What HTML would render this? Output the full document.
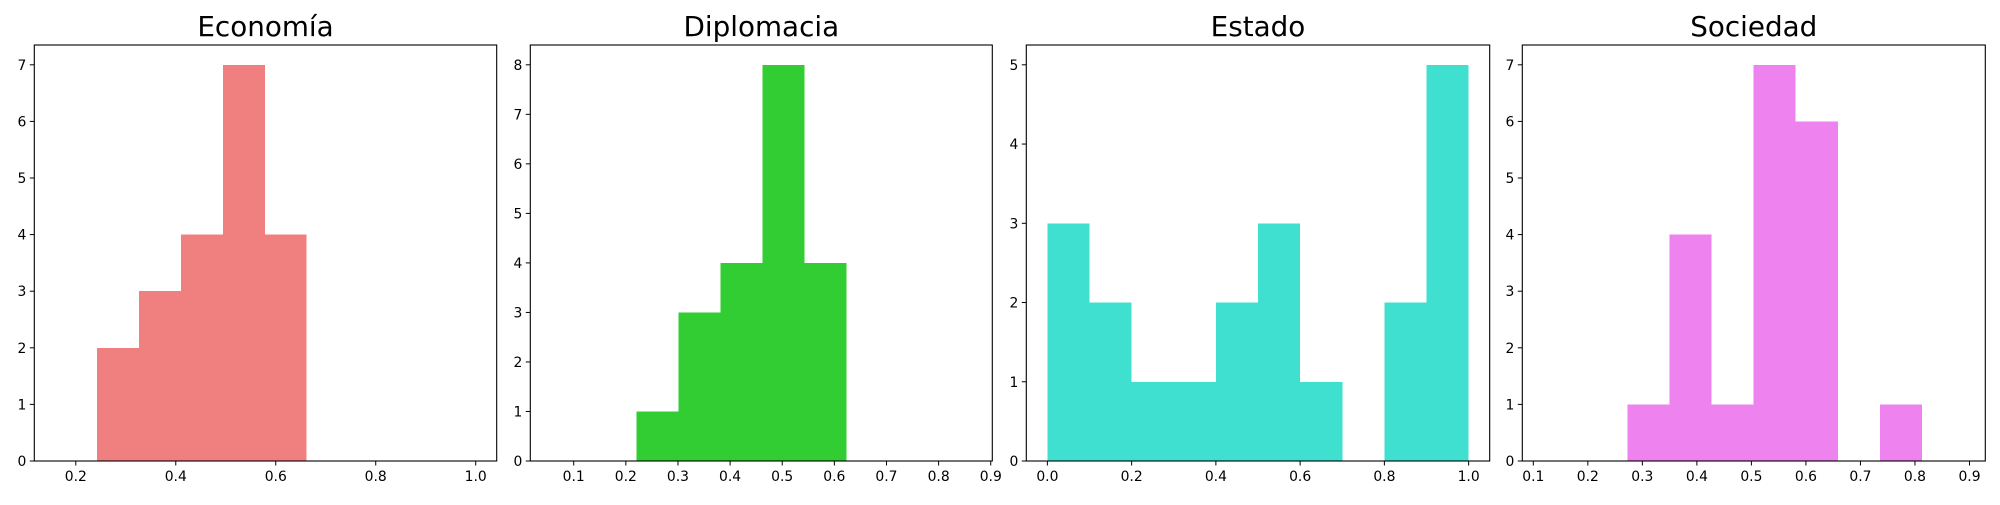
<!DOCTYPE html>
<html><head><meta charset="utf-8"><style>
html,body{margin:0;padding:0;background:#fff;}
svg text{font-family:"DejaVu Sans","Liberation Sans",sans-serif;fill:#000;}
</style></head><body>
<svg id="chart" width="2000" height="500" xmlns="http://www.w3.org/2000/svg"></svg>
<script>
const titles = ["Economía","Diplomacia","Estado","Sociedad"];
const colors = ["#f08080","#32cd32","#40e0d0","#ee82ee"];
const binStarts = [0.242, 0.2201, 0.0, 0.2729];
const binWidths = [0.084, 0.0806, 0.1, 0.0771];
const counts0 = [2,3,4,7,4];
const counts1 = [1,3,4,8,4];
const counts2 = [3,2,1,1,2,3,1,0,2,5];
const counts3 = [1,4,1,7,6,0,1];
const xMins = [0.117, 0.0167, -0.05, 0.0798];
const xMaxs = [1.042, 0.903, 1.05, 0.929];
const yMaxs = [7.35, 8.4, 5.25, 7.35];
const xTicks0 = [0.2,0.4,0.6,0.8,1.0];
const xTicks1 = [0.1,0.2,0.3,0.4,0.5,0.6,0.7,0.8,0.9];
const xTicks2 = [0.0,0.2,0.4,0.6,0.8,1.0];
const xTicks3 = [0.1,0.2,0.3,0.4,0.5,0.6,0.7,0.8,0.9];
const yTicks0 = [0,1,2,3,4,5,6,7];
const yTicks1 = [0,1,2,3,4,5,6,7,8];
const yTicks2 = [0,1,2,3,4,5];
const yTicks3 = [0,1,2,3,4,5,6,7];

const counts=[counts0,counts1,counts2,counts3];
const xT=[xTicks0,xTicks1,xTicks2,xTicks3];
const yT=[yTicks0,yTicks1,yTicks2,yTicks3];
const lefts=[34.3,530.3,1026.3,1522.3], rights=[496.7,992.3,1489.7,1985.3];
const plotTop=45, plotBottom=461;
const NS="http://www.w3.org/2000/svg";
const svgEl=document.getElementById('chart');
function mk(tag,attrs,parent){const e=document.createElementNS(NS,tag);for(const k in attrs)e.setAttribute(k,attrs[k]);(parent||svgEl).appendChild(e);return e;}
for(let p=0;p<4;p++){
  const L=lefts[p],R=rights[p];
  const sx=v=>L+(v-xMins[p])/(xMaxs[p]-xMins[p])*(R-L);
  const sy=v=>plotBottom-v/yMaxs[p]*(plotBottom-plotTop);
  const g=mk('g',{});
  
  
  counts[p].forEach((c,i)=>{
    if(c<=0)return;
    const x0=sx(binStarts[p]+i*binWidths[p]), x1=sx(binStarts[p]+(i+1)*binWidths[p]);
    const r=mk('rect',{x:x0,y:sy(c),width:x1-x0,height:sy(0)-sy(c),fill:colors[p],'shape-rendering':'crispEdges'},g);
    
    
  });
  const fr=mk('rect',{x:L,y:plotTop,width:R-L,height:plotBottom-plotTop,fill:'none',stroke:'#000','stroke-width':1.1},g);
  
  
  xT[p].forEach(v=>{
    const x=sx(v);
    mk('line',{x1:x,x2:x,y1:plotBottom,y2:plotBottom+4.5,stroke:'#000','stroke-width':1},g);
    const t=mk('text',{x:x,y:plotBottom+20,'font-size':13.9,'text-anchor':'middle'},g);
    t.textContent=v.toFixed(1);
    
    
  });
  yT[p].forEach(v=>{
    const y=sy(v);
    mk('line',{x1:L-4.5,x2:L,y1:y,y2:y,stroke:'#000','stroke-width':1},g);
    const t=mk('text',{x:L-8,y:y+5,'font-size':13.9,'text-anchor':'end'},g);
    t.textContent=String(v);
    
    
  });
  const tt=mk('text',{x:(L+R)/2,y:36,'font-size':27.8,'text-anchor':'middle'},g);
  tt.textContent=titles[p];
  
  
}
</script>
</body></html>
